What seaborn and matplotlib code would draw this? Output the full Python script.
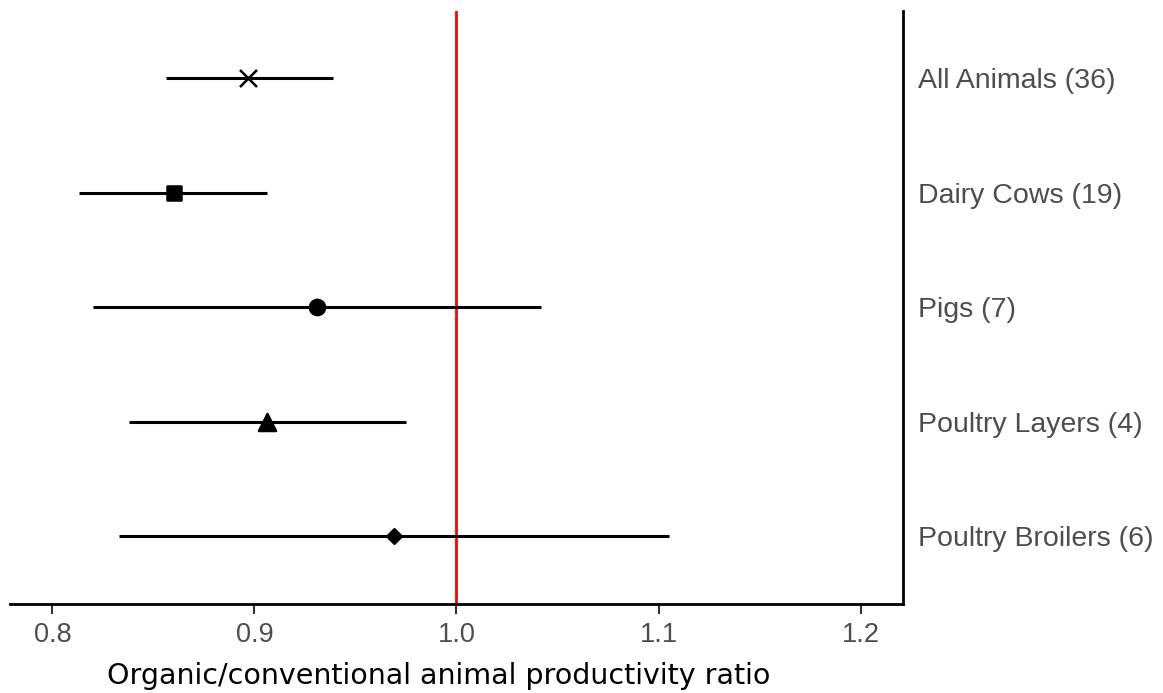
import matplotlib.pyplot as plt
import pandas as pd
import seaborn as sns

# Data
groups = ['All Animals (36)', 'Dairy Cows (19)', 'Pigs (7)',
          'Poultry Layers (4)', 'Poultry Broilers (6)']
ratio = [0.897, 0.860, 0.931, 0.906, 0.969]
ci_low = [0.856, 0.813, 0.820, 0.838, 0.833]
ci_high = [0.939, 0.906, 1.042, 0.975, 1.105]

df = pd.DataFrame({'group': groups, 'ratio': ratio,
                   'lo': ci_low, 'hi': ci_high})

# marker shape and size per group
marker_list = ['x', 's', 'o', '^', 'D']
size_list = [150, 110, 120, 150, 55]

sns.set_theme(style='white')
plt.rcParams['font.family'] = ['DejaVu Sans']

fig = plt.figure(figsize=(11.63, 6.93), dpi=100)
ax = fig.add_axes([0.0086, 0.1284, 0.7678, 0.8556])

# confidence intervals
ax.hlines(df['group'], df['lo'], df['hi'], color='black', linewidth=2.2, zorder=2)

# point estimates with different marker shapes
for i, row in df.iterrows():
    sns.scatterplot(x=[row['ratio']], y=[row['group']], marker=marker_list[i],
                    s=size_list[i], color='black', edgecolor='black',
                    linewidth=1.8, legend=False, ax=ax, zorder=3)

ax.axvline(1.0, color='red', linewidth=2, zorder=1)

ax.set_xlim(0.779, 1.221)
ax.set_ylim(4.594, -0.585)
ax.set_xticks([0.8, 0.9, 1.0, 1.1, 1.2])
ax.set_xticklabels(['0.8', '0.9', '1.0', '1.1', '1.2'])

ax.yaxis.tick_right()
ax.set_ylabel('')
ax.tick_params(axis='y', length=0, pad=11, labelsize=20.5, labelcolor='#4d4d4d')
ax.tick_params(axis='x', length=7, width=1.5, color='#333333', pad=6,
               labelsize=19.5, labelcolor='#4d4d4d', bottom=True)
for lab in ax.get_xticklabels() + ax.get_yticklabels():
    lab.set_family('Liberation Sans')

for side in ['top', 'left']:
    ax.spines[side].set_visible(False)
for side in ['bottom', 'right']:
    ax.spines[side].set_color('black')
    ax.spines[side].set_linewidth(2)

ax.set_xlabel('Organic/conventional animal productivity ratio', fontsize=20.5,
              color='black')
ax.xaxis.set_label_coords(0.48, -0.098)
ax.xaxis.label.set_va('top')

fig.savefig('out.png', dpi=100)
